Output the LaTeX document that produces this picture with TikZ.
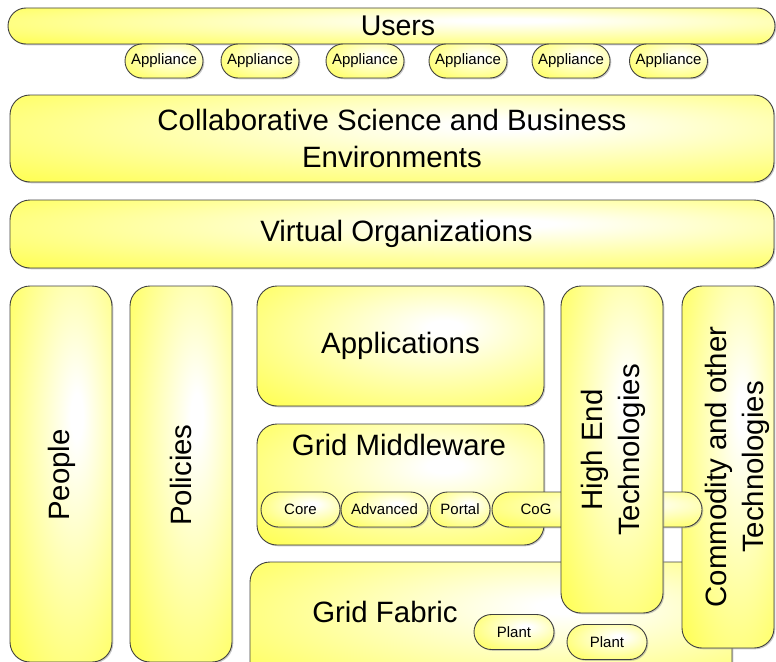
\documentclass[tikz,border=0pt]{standalone}
\usepackage{fontspec}
\setmainfont{Liberation Sans}
\usetikzlibrary{shadows}
\definecolor{yel}{rgb}{1,1,0.33}
\pgfdeclareradialshading{glow}{\pgfpoint{8bp}{8bp}}{color(0bp)=(white); color(3bp)=(white); color(40bp)=(yel); color(80bp)=(yel)}
\tikzset{
  blk/.style={draw=black!75, line width=0.9pt, shading=glow,
    drop shadow={shadow xshift=1.3pt, shadow yshift=-1.3pt, fill=black!40},
    rounded corners=20pt, inner sep=0pt, align=center,
    font=\fontsize{29.4}{37}\selectfont},
  pill/.style={blk, rounded corners=17pt, minimum height=34pt, font=\fontsize{15}{18}\selectfont},
  mpill/.style={blk, rounded corners=17.5pt, minimum height=35pt, font=\fontsize{15}{18}\selectfont},
  big/.style={font=\fontsize{29.4}{37}\selectfont, align=center, inner sep=0pt},
  small/.style={font=\fontsize{15}{18}\selectfont, inner sep=0pt}
}
\begin{document}
\begin{tikzpicture}[x=1pt,y=-1pt]
\clip (0,0) rectangle (776,661);
% top layers
\node[blk, rounded corners=18pt, minimum width=767pt, minimum height=36pt] (users) at (391.5,26) {};
\node[big, font=\fontsize{28.5}{34}\selectfont] (userstxt) at (398,26) {Users};
\node[pill, minimum width=78pt] (ap1) at (164,61) {Appliance};
\node[pill, minimum width=78pt] (ap2) at (260,61) {Appliance};
\node[pill, minimum width=78pt] (ap3) at (365,61) {Appliance};
\node[pill, minimum width=78pt] (ap4) at (468,61) {Appliance};
\node[pill, minimum width=78pt] (ap5) at (571,61) {Appliance};
\node[pill, minimum width=78pt] (ap6) at (668.5,61) {Appliance};
\node[blk, minimum width=764pt, minimum height=87pt] (collab) at (392,138.5) {Collaborative Science and Business\\Environments};
\node[blk, minimum width=764pt, minimum height=68pt] (vo) at (392,234) {};
\node[big] (votxt) at (396.5,234) {Virtual Organizations};
% columns
\node[blk, minimum width=102pt, minimum height=376pt] (people) at (61,474) {};
\node[big, rotate=90] (peopletxt) at (62,475) {People};
\node[blk, minimum width=102pt, minimum height=376pt] (policies) at (181,474) {};
\node[big, rotate=90] (policiestxt) at (181,475) {Policies};
\node[blk, minimum width=287pt, minimum height=120pt] (apps) at (400.5,346) {Applications};
% fabric
\node[blk, minimum width=482pt, minimum height=128pt] (fabric) at (491,626) {};
\node[big] (fabrictxt) at (385,612) {Grid Fabric};
\node[mpill, minimum width=80pt] (plant1) at (514,632) {Plant};
\node[mpill, minimum width=80pt] (plant2) at (607,642) {Plant};
% commodity
\node[blk, minimum width=92pt, minimum height=362pt] (comm) at (728,467) {};
\node[big, rotate=90] (commtxt) at (737,467) {Commodity and other\\Technologies};
% middleware
\node[blk, minimum width=287pt, minimum height=121pt] (mw) at (400.5,484.5) {};
\node[big] (mwtxt) at (399,445) {Grid Middleware};
\node[mpill, minimum width=210pt] (cog) at (597,509.5) {};
\node[small] (cogtxt) at (536,509.5) {CoG};
\node[mpill, minimum width=79pt] (core) at (300.5,509.5) {Core};
\node[mpill, minimum width=87pt] (adv) at (384.5,509.5) {Advanced};
\node[mpill, minimum width=60pt] (portal) at (460,509.5) {Portal};
% high end
\node[blk, minimum width=102pt, minimum height=327pt] (high) at (612,449.5) {};
\node[big, rotate=90] (hightxt) at (613,450) {High End\\Technologies};
\end{tikzpicture}
\end{document}
